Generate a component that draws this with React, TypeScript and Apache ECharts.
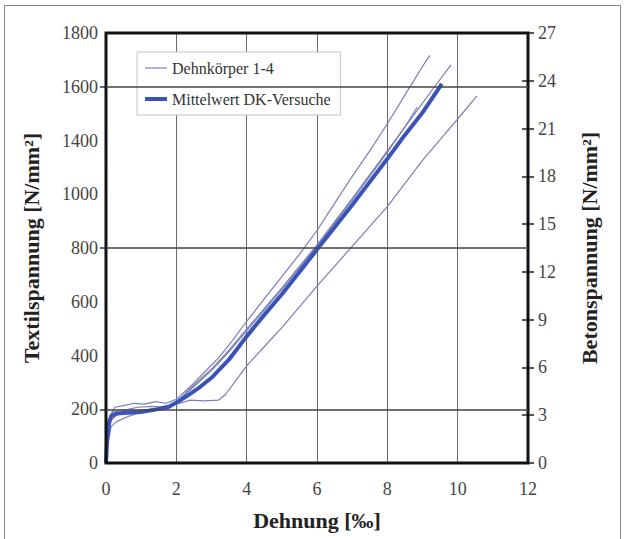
import React, { useEffect, useRef } from "react";
import * as echarts from "echarts";

// Left axis tick labels (as printed in the original, evenly spaced)
const leftLabels = ["0", "200", "400", "600", "800", "1000", "1400", "1600", "1800"];
const leftDarkLabels = ["200", "800", "1600"];
const rightTicksMax = 27;
const xTicksMax = 12;

// Mean curve (Betonspannung, N/mm²)
const xMean = [0, 0.03, 0.08, 0.15, 0.3, 0.6, 1.0, 1.4, 1.8, 2.0, 2.3, 2.6, 3.0, 3.5, 4.0, 4.5, 5.0, 5.5, 6.0, 6.5, 7.0, 7.5, 8.0, 8.5, 9.0, 9.55];
const yMean = [0, 1.3, 2.5, 2.95, 3.1, 3.15, 3.2, 3.35, 3.55, 3.8, 4.2, 4.65, 5.35, 6.5, 7.95, 9.3, 10.6, 12.0, 13.4, 14.8, 16.2, 17.65, 19.1, 20.6, 22.0, 23.8];

// Specimens 1-4
const xA = [0, 0.05, 0.12, 0.25, 0.5, 0.8, 1.1, 1.4, 1.7, 2.0, 2.4, 2.8, 3.2, 3.6, 4.0, 4.5, 5.0, 5.5, 6.0, 6.5, 7.0, 7.5, 8.0, 8.5, 9.0, 9.21];
const yA = [0, 1.8, 3.0, 3.5, 3.6, 3.75, 3.7, 3.85, 3.75, 4.0, 4.8, 5.7, 6.6, 7.7, 8.9, 10.3, 11.7, 13.1, 14.6, 16.3, 18.0, 19.6, 21.3, 23.1, 24.9, 25.6];

const xB = [0, 0.04, 0.1, 0.2, 0.5, 0.9, 1.3, 1.7, 2.0, 2.5, 3.0, 3.5, 4.0, 5.0, 6.0, 7.0, 8.0, 9.0, 9.3, 9.81];
const yB = [0, 1.5, 2.8, 3.2, 3.3, 3.5, 3.55, 3.5, 3.8, 4.9, 5.9, 7.1, 8.4, 11.0, 13.7, 16.6, 19.6, 22.6, 23.5, 25.0];

const xC = [0, 0.05, 0.15, 0.3, 0.6, 1.0, 1.4, 1.8, 2.0, 2.5, 3.0, 3.5, 4.0, 5.0, 6.0, 7.0, 8.0, 8.5, 8.85];
const yC = [0, 1.2, 2.3, 2.6, 2.9, 3.2, 3.3, 3.45, 3.8, 4.8, 5.8, 7.0, 8.3, 10.9, 13.6, 16.5, 19.5, 21.1, 22.35];

const xD = [0, 0.05, 0.15, 0.3, 0.6, 1.0, 1.4, 1.8, 2.0, 2.4, 2.8, 3.2, 3.4, 3.7, 4.0, 4.5, 5.0, 5.5, 6.0, 7.0, 8.0, 9.0, 9.5, 10.0, 10.55];
const yD = [0, 1.5, 2.7, 3.0, 3.2, 3.3, 3.4, 3.5, 3.7, 3.95, 3.9, 3.95, 4.3, 5.2, 6.1, 7.3, 8.5, 9.8, 11.1, 13.6, 16.1, 19.0, 20.3, 21.6, 23.05];

const specimenName = "Dehnkörper 1-4";
const meanName = "Mittelwert DK-Versuche";

const FONT = '"Liberation Serif", "Times New Roman", serif';
const zip = (xs: number[], ys: number[]) => xs.map((x, i) => [x, ys[i]]);

export default function App() {
  const ref = useRef<HTMLDivElement>(null);
  useEffect(() => {
    if (!ref.current) return;
    const chart = echarts.init(ref.current, null, { renderer: "svg" });
    const thinColor = "#7b7fb6";
    const meanColor = "#3a53b6";
    const thin = (xs: number[], ys: number[]) => ({
      type: "line",
      name: specimenName,
      yAxisIndex: 1,
      data: zip(xs, ys),
      symbol: "none",
      lineStyle: { color: thinColor, width: 1.2 },
      itemStyle: { color: thinColor },
      z: 3,
    });
    const option: any = {
      animation: false,
      backgroundColor: "#fff",
      textStyle: { fontFamily: FONT },
      graphic: [
        {
          type: "rect",
          shape: { x: 4.5, y: 5.5, width: 616, height: 540 },
          style: { fill: "none", stroke: "#888", lineWidth: 1 },
          silent: true,
        },
      ],
      grid: {
        left: 106,
        right: 97,
        top: 33,
        bottom: 76,
        show: true,
        borderColor: "#111",
        borderWidth: 3,
        backgroundColor: "transparent",
        z: 5,
      },
      legend: {
        data: [
          { name: specimenName, icon: "path://M0,0L22,0L22,1.2L0,1.2Z", itemStyle: { color: thinColor } },
          { name: meanName, icon: "path://M0,0L22,0L22,4L0,4Z", itemStyle: { color: meanColor } },
        ],
        orient: "vertical",
        left: 137,
        top: 52,
        itemWidth: 22,
        itemHeight: 12,
        itemGap: 15,
        symbolKeepAspect: true,
        padding: [8, 10, 8, 8],
        backgroundColor: "#fff",
        borderColor: "#c4c4c4",
        borderWidth: 1,
        textStyle: { fontFamily: FONT, fontSize: 16, color: "#333" },
      },
      xAxis: {
        type: "value",
        min: 0,
        max: xTicksMax,
        interval: 2,
        name: "Dehnung [‰]",
        nameLocation: "middle",
        nameGap: 46,
        nameTextStyle: { fontFamily: FONT, fontSize: 22, fontWeight: "bold", color: "#222" },
        axisLine: { show: false },
        axisTick: { show: false },
        axisLabel: { fontFamily: FONT, fontSize: 18, color: "#444", margin: 17 },
        splitLine: { show: true, lineStyle: { color: "#6a6a6a", width: 1 } },
      },
      yAxis: [
        {
          type: "value",
          position: "left",
          min: 0,
          max: leftLabels.length - 1,
          interval: 1,
          name: "Textilspannung [N/mm²]",
          nameLocation: "middle",
          nameRotate: 90,
          nameGap: 64,
          nameTextStyle: { fontFamily: FONT, fontSize: 22, fontWeight: "bold", color: "#222" },
          axisLine: { show: false },
          axisTick: {
            show: true,
            length: 6,
            customValues: leftDarkLabels.map((l) => leftLabels.indexOf(l)),
            lineStyle: { color: "#333", width: 1.5 },
          },
          axisLabel: {
            fontFamily: FONT,
            fontSize: 18,
            color: "#444",
            margin: 8,
            formatter: (v: number) => leftLabels[Math.round(v)] ?? "",
          },
          splitLine: { show: true, lineStyle: { color: "#eeeeee", width: 1 } },
        },
        {
          type: "value",
          position: "right",
          min: 0,
          max: rightTicksMax,
          interval: 3,
          name: "Betonspannung [N/mm²]",
          nameLocation: "middle",
          nameRotate: 90,
          nameGap: 50,
          nameTextStyle: { fontFamily: FONT, fontSize: 22, fontWeight: "bold", color: "#222" },
          axisLine: { show: false },
          axisTick: { show: true, length: 6, lineStyle: { color: "#222", width: 1.5 } },
          axisLabel: { fontFamily: FONT, fontSize: 18, color: "#444", margin: 10 },
          splitLine: { show: false },
        },
        {
          type: "value",
          position: "right",
          min: 0,
          max: rightTicksMax,
          interval: 3,
          axisLine: { show: false },
          axisTick: { show: true, inside: true, length: 6, lineStyle: { color: "#222", width: 1.5 } },
          axisLabel: { show: false },
          splitLine: { show: false },
        },
      ],
      series: [
        {
          type: "line",
          yAxisIndex: 0,
          data: [],
          symbol: "none",
          silent: true,
          markLine: {
            silent: true,
            symbol: "none",
            label: { show: false },
            lineStyle: { color: "#444", width: 1.5, type: "solid" },
            data: leftDarkLabels.map((l) => ({ yAxis: leftLabels.indexOf(l) })),
          },
          z: 1,
        },
        thin(xA, yA),
        thin(xB, yB),
        thin(xC, yC),
        thin(xD, yD),
        {
          type: "line",
          name: meanName,
          yAxisIndex: 1,
          data: zip(xMean, yMean),
          symbol: "none",
          lineStyle: { color: meanColor, width: 4 },
          itemStyle: { color: meanColor },
          z: 4,
        },
      ],
    };
    chart.setOption(option);
    return () => chart.dispose();
  }, []);
  return (
    <div
      ref={ref}
      style={{ position: "fixed", left: 0, top: 0, width: 625, height: 539, background: "#fff" }}
    />
  );
}
